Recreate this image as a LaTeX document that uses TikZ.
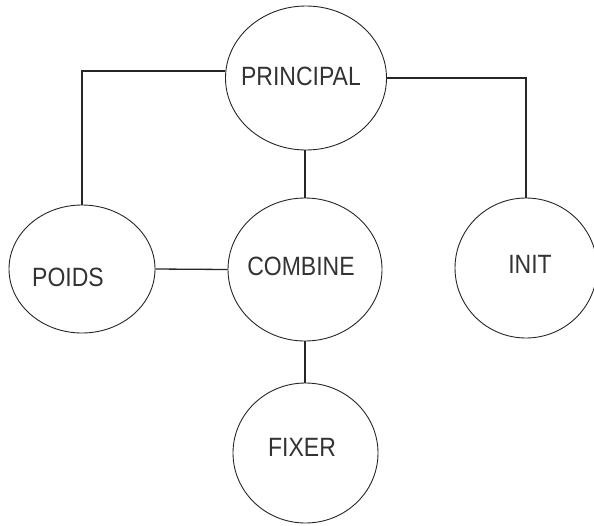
\documentclass[tikz,border=0pt]{standalone}
\usepackage{fontspec}
\setmainfont{Liberation Sans}
\usetikzlibrary{shapes.geometric}
\newcommand{\tallword}[1]{\scalebox{1}[1.15]{#1}}
\begin{document}
\begin{tikzpicture}[x=1pt,y=-1pt,
  bubble/.style={draw=black!85,line width=0.9pt,ellipse,inner sep=0pt},
  lbl/.style={font=\fontsize{23}{26}\selectfont,text=black!80,inner sep=0pt},
  wire/.style={draw=black!85,line width=1.3pt}]
\useasboundingbox (0,0) rectangle (594,525);
\node[bubble,minimum width=161pt,minimum height=144pt] (principal) at (306,78) {};
\node[bubble,minimum width=154pt,minimum height=143pt] (combine) at (305,269.5) {};
\node[bubble,minimum width=146pt,minimum height=128pt] (poids) at (82,269) {};
\node[bubble,minimum width=142pt,minimum height=140pt] (init) at (526,268) {};
\node[bubble,minimum width=145pt,minimum height=140pt] (fixer) at (305.5,453) {};
\node[lbl] (tprincipal) at (301,76.5) {\tallword{PRINCIPAL}};
\node[lbl] (tcombine) at (301,266) {\tallword{COMBINE}};
\node[lbl] (tpoids) at (68,277) {\tallword{POIDS}};
\node[lbl] (tinit) at (530,264) {\tallword{INIT}};
\node[lbl] (tfixer) at (302,447) {\tallword{FIXER}};
\draw[wire] (principal.175.7) -| (poids.north);
\draw[wire] (principal.east) -| (init.north);
\draw[wire] (combine.north |- principal.south) -- (combine.north);
\draw[wire] (poids.east) -- (combine.west);
\draw[wire] (combine.south) -- (combine.south |- fixer.north);
\end{tikzpicture}
\end{document}
